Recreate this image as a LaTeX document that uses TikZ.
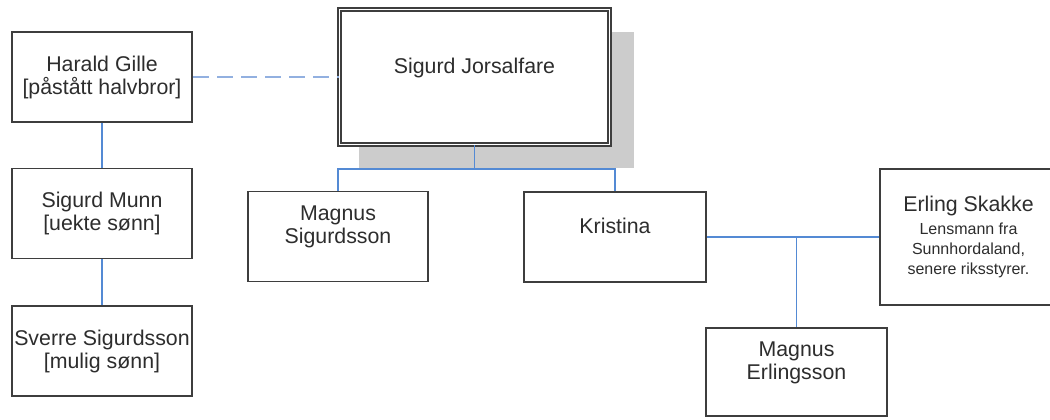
\documentclass[tikz,border=0pt]{standalone}
\usepackage{fontspec}
\setmainfont{Liberation Sans}
\definecolor{BoxGray}{RGB}{62,62,62}
\definecolor{TextGray}{RGB}{45,45,45}
\definecolor{LineBlue}{RGB}{84,138,212}
\definecolor{DashBlue}{RGB}{146,176,224}
\definecolor{ShadowGray}{RGB}{204,204,204}
\newcommand{\bigfont}{\fontsize{16}{17.25}\selectfont}
\newcommand{\smallfont}{\fontsize{12}{14.5}\selectfont}
\tikzset{
  person/.style={draw=BoxGray, line width=1.4pt, fill=white, align=center,
    text=TextGray, inner sep=0pt, font=\bigfont,
    minimum width=135.5pt, minimum height=67.5pt},
  king/.style={person, line width=1.2pt, double=white, double distance=1.2pt,
    minimum width=202.5pt, minimum height=101.5pt},
  shadowbox/.style={fill=ShadowGray, inner sep=0pt,
    minimum width=206pt, minimum height=102pt},
  link/.style={draw=LineBlue, line width=1.2pt},
  guess/.style={draw=DashBlue, line width=2pt, dash pattern=on 12pt off 6pt}
}

\begin{document}
\begin{tikzpicture}[x=0.75pt, y=-0.75pt]

\useasboundingbox (0,0) rectangle (1050,419);
\clip (0,0) rectangle (1050,419);
\fill[white] (0,0) rectangle (1050,419);

% Sigurd Jorsalfare with shadow
\node[shadowbox] (jshadow) at (496.5,100) {};
\node[king] (jorsal) at (474.5,77) {Sigurd Jorsalfare\\~};

% left column
\node[person] (harald) at (102,77)    {Harald Gille\\{}[påstått halvbror]};
\node[person] (munn)   at (102,213.5) {Sigurd Munn\\{}[uekte sønn]};
\node[person] (sverre) at (102,351)   {Sverre Sigurdsson\\{}[mulig sønn]};

% children of Sigurd Jorsalfare
\node[person] (magnusS)  at (338,236.5) {Magnus\\Sigurdsson\\~};
\node[person, minimum width=137pt] (kristina) at (615,237) {Kristina\\~};

% Erling and son
\node[person, minimum width=133pt, minimum height=102pt] (erling) at (968.5,237)
  {Erling Skakke\\{\smallfont Lensmann fra}\\[-2.5pt]{\smallfont Sunnhordaland,}\\[-2.5pt]{\smallfont senere riksstyrer.}};
\node[person, minimum height=66.5pt] (magnusE) at (796.5,372) {Magnus\\Erlingsson\\~};

% lines
\draw[guess] (harald.east) -- (jorsal.west);
\draw[link] (harald.south) -- (munn.north);
\draw[link] (munn.south) -- (sverre.north);

\coordinate (jfork) at (474.5,169);
\draw[link] (jorsal.south) -- (jfork);
\draw[link] (magnusS.north) |- (jfork) -| (kristina.north);

\coordinate (efork) at (magnusE.north |- kristina.east);
\draw[link] (kristina.east) -- (erling.west);
\draw[link] (efork) -- (magnusE.north);

\end{tikzpicture}
\end{document}
